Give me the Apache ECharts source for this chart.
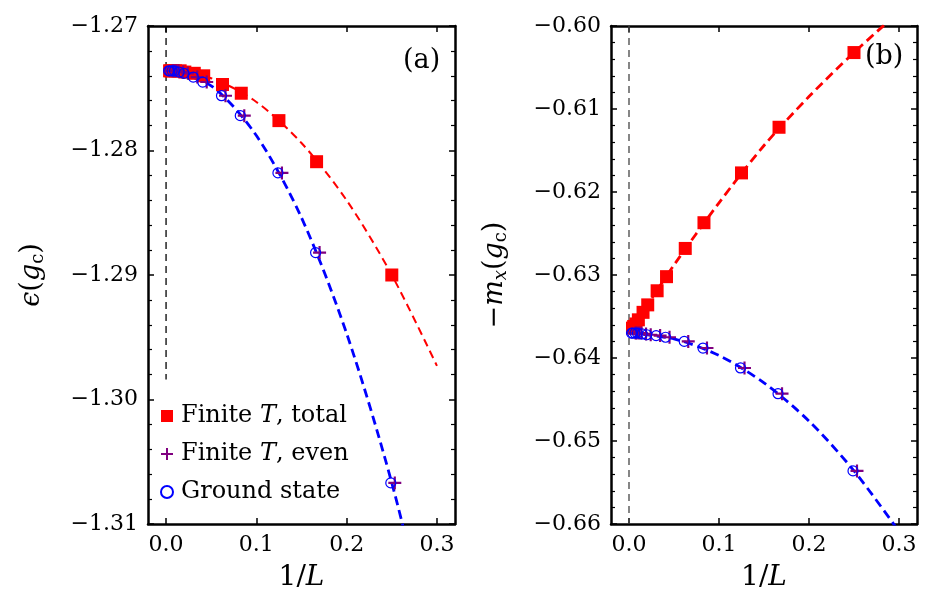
<!DOCTYPE html>
<html>
<head>
<meta charset="utf-8">
<script src="https://cdn.jsdelivr.net/npm/echarts@6/dist/echarts.min.js"></script>
<style>
html,body{margin:0;padding:0;background:#fff;}
#chart{width:945px;height:605px;}
</style>
</head>
<body>
<div id="chart"></div>
<script>
// ---- data ----
const invL = [0.25, 0.1667, 0.125, 0.0833, 0.0625, 0.0417, 0.03125, 0.0208, 0.0156, 0.0104, 0.0078, 0.0052, 0.0039];
// panel (a): energy
const totalA  = [-1.2900, -1.2809, -1.2776, -1.2754, -1.2747, -1.2740, -1.2738, -1.2737, -1.2736, -1.2736, -1.2736, -1.2736, -1.2736];
const evenA   = [-1.3067, -1.2882, -1.2818, -1.2772, -1.2756, -1.2745, -1.2741, -1.2738, -1.2737, -1.2736, -1.2736, -1.2736, -1.2736];
const groundA = [-1.3067, -1.2882, -1.2818, -1.2772, -1.2756, -1.2745, -1.2741, -1.2738, -1.2737, -1.2736, -1.2736, -1.2736, -1.2736];
// panel (b): magnetization
const totalB  = [-0.6032, -0.6122, -0.6177, -0.6237, -0.6268, -0.6302, -0.6319, -0.6336, -0.6345, -0.6354, -0.6359, -0.6362, -0.6364];
const evenB   = [-0.6536, -0.6443, -0.6412, -0.6388, -0.6380, -0.6375, -0.6373, -0.6372, -0.6371, -0.6370, -0.6370, -0.6370, -0.6370];
const groundB = [-0.6536, -0.6443, -0.6412, -0.6388, -0.6380, -0.6375, -0.6373, -0.6372, -0.6371, -0.6370, -0.6370, -0.6370, -0.6370];
// fitted dashed curves
const fitX        = [0, 0.05, 0.1, 0.15, 0.2, 0.25, 0.3];
const fitTotalA   = [-1.2736, -1.2742, -1.2761, -1.2794, -1.2840, -1.2900, -1.2973];
const fitGroundA  = [-1.2735, -1.2748, -1.2788, -1.2854, -1.2947, -1.3067, -1.3214];
const fitXTotalB  = [0, 0.01, 0.02, 0.05, 0.1, 0.15, 0.2, 0.25, 0.3];
const fitTotalB   = [-0.6370, -0.6353, -0.6337, -0.6288, -0.6213, -0.6144, -0.6085, -0.6032, -0.5983];
const fitGroundB  = [-0.6370, -0.6377, -0.6397, -0.6430, -0.6476, -0.6536, -0.6609];
// axes
const xTicks = [0, 0.1, 0.2, 0.3];
const yRangeA = [-1.31, -1.27];
const yRangeB = [-0.66, -0.60];
const xRange = [-0.02, 0.32];
const vlineA = [-1.27, -1.2984];
const vlineB = [-0.60, -0.66];
const names = ['Finite T, total', 'Finite T, even', 'Ground state'];

const FONT = '"DejaVu Serif", "Liberation Serif", serif';
const pair = (xs, ys) => xs.map((x, i) => [x, ys[i]]);
const fmtY = v => (v < 0 ? '\u2212' : '') + Math.abs(v).toFixed(2);
const fmtX = v => v.toFixed(1);
const PLUS = 'path://M5,0H7V5H12V7H7V12H5V7H0V5H5Z';

function xAx(grid, top) {
  return {
    type: 'value', gridIndex: grid, min: xRange[0], max: xRange[1],
    position: top ? 'top' : 'bottom',
    axisLine: { show: true, onZero: false, lineStyle: { color: '#000', width: 2.5 } },
    axisTick: { show: true, inside: true, length: 6, customValues: xTicks, lineStyle: { color: '#000', width: 1.5 } },
    axisLabel: { show: !top, customValues: xTicks, formatter: fmtX, margin: 10, color: '#000', fontFamily: FONT, fontSize: 22 },
    splitLine: { show: false },
    name: top ? '' : '1/{i|L}', nameLocation: 'middle', nameGap: 40,
    nameTextStyle: { fontFamily: FONT, fontSize: 28, color: '#000', rich: { i: { fontFamily: FONT, fontSize: 28, fontStyle: 'italic' } } }
  };
}
function yAx(grid, right, range, name) {
  return {
    type: 'value', gridIndex: grid, min: range[0], max: range[1], interval: 0.01,
    position: right ? 'right' : 'left',
    axisLine: { show: true, onZero: false, lineStyle: { color: '#000', width: 2.5 } },
    axisTick: { show: true, inside: true, length: 6, lineStyle: { color: '#000', width: 1.5 } },
    minorTick: { show: true, splitNumber: 5, length: 4, lineStyle: { color: '#000', width: 1.2 } },
    axisLabel: { show: !right, formatter: fmtY, margin: 10, color: '#000', fontFamily: FONT, fontSize: 22 },
    splitLine: { show: false },
    name: right ? '' : name, nameLocation: 'middle', nameGap: 103,
    nameTextStyle: {
      fontFamily: FONT, fontSize: 27, color: '#000',
      rich: {
        r: { fontFamily: FONT, fontSize: 27, lineHeight: 27 },
        i: { fontFamily: FONT, fontSize: 27, fontStyle: 'italic', lineHeight: 27 },
        s: { fontFamily: FONT, fontSize: 18, lineHeight: 20, padding: [14, 0, 0, 0] },
        si: { fontFamily: FONT, fontSize: 18, fontStyle: 'italic', lineHeight: 20, padding: [14, 0, 0, 0] }
      }
    }
  };
}

function fitLine(xi, yi, xs, ys, color, width, dash) {
  return { type: 'line', xAxisIndex: xi, yAxisIndex: yi, data: pair(xs, ys), smooth: 0.3, symbol: 'none',
    clip: true, lineStyle: { color: color, width: width, type: dash }, silent: true, z: 2 };
}
function vline(xi, yi, ys, color) {
  return { type: 'line', xAxisIndex: xi, yAxisIndex: yi, data: [[0, ys[0]], [0, ys[1]]], symbol: 'none',
    lineStyle: { color: color, width: 1.3, type: [7, 5] }, silent: true, z: 1 };
}
function scatters(xi, yi, tot, ev, gs) {
  return [
    { name: names[0], type: 'scatter', xAxisIndex: xi, yAxisIndex: yi, data: pair(invL, tot),
      symbol: 'rect', symbolSize: 13, itemStyle: { color: '#ff0000', opacity: 1 }, z: 3 },
    { name: names[1], type: 'scatter', xAxisIndex: xi, yAxisIndex: yi, data: pair(invL, ev),
      symbol: PLUS, symbolSize: 13, symbolOffset: [3, 0], itemStyle: { color: '#800080', opacity: 1 }, z: 4 },
    { name: names[2], type: 'scatter', xAxisIndex: xi, yAxisIndex: yi, data: pair(invL, gs),
      symbol: 'circle', symbolSize: 10, symbolOffset: [-1, 0],
      itemStyle: { color: 'rgba(0,0,0,0)', borderColor: '#0000ff', borderWidth: 1.2, opacity: 1 }, z: 5 }
  ];
}

const chart = echarts.init(document.getElementById('chart'), null, { renderer: 'canvas' });
chart.setOption({
  animation: false,
  backgroundColor: '#fff',
  grid: [
    { left: 148, top: 26, width: 307, height: 498 },
    { left: 611, top: 26, width: 306, height: 498 }
  ],
  xAxis: [xAx(0, false), xAx(0, true), xAx(1, false), xAx(1, true)],
  yAxis: [
    yAx(0, false, yRangeA, '{i|\u03F5}{r|(}{i|g}{s|c}{r|)}'),
    yAx(0, true, yRangeA, ''),
    yAx(1, false, yRangeB, '{r|\u2212}{i|m}{si|x}{r|(}{i|g}{s|c}{r|)}'),
    yAx(1, true, yRangeB, '')
  ],
  legend: {
    data: names, orient: 'vertical', left: 155, top: 398, itemGap: 12,
    itemWidth: 12, itemHeight: 12,
    formatter: n => n.replace('T', '{i|T}'),
    textStyle: { fontFamily: FONT, fontSize: 24, color: '#000', padding: [0, 0, 0, 3], lineHeight: 26,
      rich: { i: { fontFamily: FONT, fontSize: 24, fontStyle: 'italic', lineHeight: 26 } } }
  },
  graphic: [
    { type: 'text', left: 403, top: 47, style: { text: '(a)', font: '27px ' + FONT, fill: '#000' } },
    { type: 'text', left: 865, top: 43, style: { text: '(b)', font: '27px ' + FONT, fill: '#000' } }
  ],
  series: [
    vline(0, 0, vlineA, '#000'),
    fitLine(0, 0, fitX, fitTotalA, '#ff0000', 2, [8, 5]),
    fitLine(0, 0, fitX, fitGroundA, '#0000ff', 2.8, [9, 5]),
    ...scatters(0, 0, totalA, evenA, groundA),
    vline(2, 2, vlineB, '#444'),
    fitLine(2, 2, fitXTotalB, fitTotalB, '#ff0000', 2.8, [9, 5]),
    fitLine(2, 2, fitX, fitGroundB, '#0000ff', 2.8, [9, 5]),
    ...scatters(2, 2, totalB, evenB, groundB)
  ]
});
</script>
</body>
</html>
